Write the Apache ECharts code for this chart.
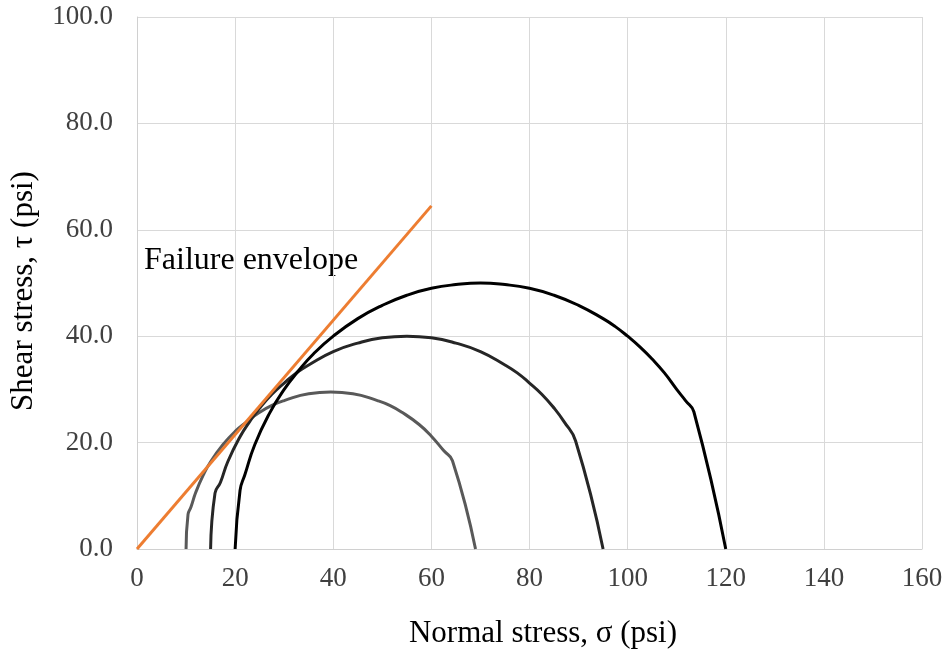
<!DOCTYPE html>
<html>
<head>
<meta charset="utf-8">
<script src="https://cdn.jsdelivr.net/npm/echarts@6/dist/echarts.min.js"></script>
<style>
  html, body { margin: 0; padding: 0; background: #fff; }
  #chart { width: 949px; height: 655px; }
</style>
</head>
<body>
<div id="chart"></div>
<script>
// Mohr circles (normal stress σ, shear stress τ) in psi
const circleA = [
  [10, 0], [10.4, 6.5], [11, 7.9], [12, 10.7], [13.5, 13.9], [15, 16.4],
  [17.5, 19.6], [20, 22.1], [22.5, 24.0], [25, 25.7], [27.5, 27.0],
  [30, 27.9], [35, 29.2], [39.5, 29.5], [44, 29.2], [49, 27.9],
  [51.5, 27.0], [54, 25.7], [57.5, 23.4], [60, 21.2], [62.5, 18.5],
  [64.3, 16.6], [69, 0]
];
const circleB = [
  [15, 0], [15.9, 10.5], [17, 12.5], [18.5, 16.4], [21, 21.1], [23, 24],
  [25, 26.5], [27.5, 29.1], [30, 31.2], [32.5, 33.1], [35, 34.6], [40, 37.1],
  [45, 38.7], [50, 39.7], [55, 40], [60, 39.7], [65, 38.7], [70, 37.1],
  [75, 34.6], [77.5, 33.1], [80, 31.2], [82.5, 29.1], [85, 26.5], [87, 24.0],
  [89.4, 20.3], [95, 0]
];
const circleC = [
  [20, 0], [21.0, 11], [22, 14.0], [24, 19.6], [27, 25.5], [30, 30],
  [33, 33.6], [36, 36.7], [40, 40], [45, 43.3], [50, 45.8], [55, 47.7],
  [60, 49.0], [65, 49.7], [70, 50], [75, 49.7], [80, 49.0], [85, 47.7],
  [90, 45.8], [95, 43.3], [97.5, 41.8], [100, 40], [102.5, 38.0],
  [105, 35.7], [107.5, 33.1], [110, 30], [111.8, 27.9], [113.5, 25.8],
  [120, 0]
];
// Failure envelope (straight line from the origin)
const envelope = [[0, 0], [60, 64.5]];

const xTicks = { min: 0, max: 160, interval: 20 };
const yTicks = { min: 0, max: 100, interval: 20 };

const serif = '"Liberation Serif", "Times New Roman", serif';
const chart = echarts.init(document.getElementById('chart'), null, { renderer: 'canvas' });

function curve(name, data, color) {
  return {
    name, type: 'line', data, smooth: 0.5, showSymbol: false, symbol: 'none',
    lineStyle: { color, width: 3 }, z: 3
  };
}

chart.setOption({
  animation: false,
  backgroundColor: '#ffffff',
  grid: { left: 137, right: 27, top: 17, bottom: 106, containLabel: false },
  xAxis: {
    type: 'value', min: xTicks.min, max: xTicks.max, interval: xTicks.interval,
    axisLine: { show: true, lineStyle: { color: '#d0d0d0', width: 1 } },
    axisTick: { show: false },
    splitLine: { show: true, lineStyle: { color: '#d9d9d9', width: 1 } },
    axisLabel: { color: '#404040', fontFamily: serif, fontSize: 27, margin: 16 }
  },
  yAxis: {
    type: 'value', min: yTicks.min, max: yTicks.max, interval: yTicks.interval,
    axisLine: { show: true, lineStyle: { color: '#d0d0d0', width: 1 } },
    axisTick: { show: false },
    splitLine: { show: true, lineStyle: { color: '#d9d9d9', width: 1 } },
    axisLabel: {
      color: '#404040', fontFamily: serif, fontSize: 27, margin: 24,
      formatter: v => v.toFixed(1)
    }
  },
  series: [
    curve('σ3 = 10 psi', circleA, '#595959'),
    curve('σ3 = 15 psi', circleB, '#262626'),
    curve('σ3 = 20 psi', circleC, '#000000'),
    {
      name: 'Failure envelope', type: 'line', data: envelope, showSymbol: false,
      symbol: 'none', lineStyle: { color: '#ED7D31', width: 3 }, z: 4
    }
  ],
  graphic: [
    {
      type: 'text', left: 144, top: 245,
      style: { text: 'Failure envelope', font: '32px ' + serif, fill: '#000000' }
    },
    {
      type: 'text', x: 543, y: 634,
      style: { text: 'Normal stress, σ (psi)', font: '31px ' + serif, fill: '#000000',
               align: 'center', verticalAlign: 'middle' }
    },
    {
      type: 'text', x: 24, y: 291, rotation: Math.PI / 2,
      style: { text: 'Shear stress, τ (psi)', font: '31px ' + serif, fill: '#000000',
               align: 'center', verticalAlign: 'middle' }
    }
  ]
});
</script>
</body>
</html>
